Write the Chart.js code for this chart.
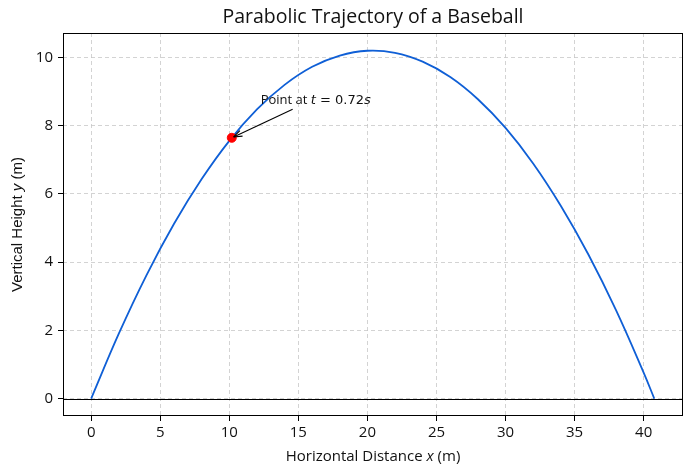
<!DOCTYPE html>
<html>
<head>
<meta charset="utf-8">
<script src="https://cdn.jsdelivr.net/npm/chart.js@4"></script>
<style>
  html, body { margin: 0; padding: 0; background: #fff; }
  canvas { display: block; }
</style>
</head>
<body>
<canvas id="graph" width="691" height="475"></canvas>
<script>
// trajectory (x in m, y in m)
var distances = [0, 2, 4, 6, 8, 10, 12, 14, 16, 18, 20, 22, 24, 26, 28, 30, 32, 34, 36, 38, 40, 40.77];
var heights   = [0, 1.90, 3.61, 5.12, 6.43, 7.55, 8.47, 9.19, 9.72, 10.05, 10.19, 10.13, 9.87, 9.42, 8.77, 7.93, 6.89, 5.65, 4.22, 2.59, 0.76, 0];

// highlighted point and its label
var markX = [10.18];
var markY = [7.64];
var labelAt = [12.27, 8.62];

var xTicks = [0, 5, 10, 15, 20, 25, 30, 35, 40];
var yTicks = [0, 2, 4, 6, 8, 10];

var sansFont = "'Open Sans', sans-serif";
var mathFont = "'DejaVu Sans', sans-serif";
var ylabFont = "'Liberation Sans', Arial, sans-serif";

var points = distances.map(function (d, i) { return {x: d, y: heights[i]}; });

function mixed(c, parts, x, y, size) {
    var cx = x;
    parts.forEach(function (p) {
        c.font = p[1] + size + 'px ' + p[2];
        c.fillText(p[0], cx, y);
        cx += c.measureText(p[0]).width;
    });
}
function mixedWidth(c, parts, size) {
    var w = 0;
    parts.forEach(function (p) {
        c.font = p[1] + size + 'px ' + p[2];
        w += c.measureText(p[0]).width;
    });
    return w;
}

/* frame, zero line, title, axis labels and the arrow note */
var extras = {
    id: 'extras',
    beforeDatasetsDraw: function (chart) {
        var c = chart.ctx, a = chart.chartArea;
        var y0 = chart.scales.y.getPixelForValue(0);
        c.save();
        c.strokeStyle = '#000';
        c.lineWidth = 1.2;
        c.beginPath();
        c.moveTo(a.left, Math.round(y0) + 0.5);
        c.lineTo(a.right, Math.round(y0) + 0.5);
        c.stroke();
        c.restore();
    },
    afterDraw: function (chart) {
        var c = chart.ctx, a = chart.chartArea;
        var sx = chart.scales.x, sy = chart.scales.y;
        c.save();
        c.strokeStyle = '#000';
        c.lineWidth = 1;
        c.strokeRect(a.left + 0.5, a.top + 0.5, a.right - a.left - 1, a.bottom - a.top - 1);

        c.fillStyle = '#111';
        c.textAlign = 'center';
        c.textBaseline = 'middle';
        c.font = '19.5px ' + sansFont;
        c.fillText('Parabolic Trajectory of a Baseball', (a.left + a.right) / 2, 17);

        // x axis label with italic x
        c.textAlign = 'left';
        var xl = [['Horizontal Distance ', '', sansFont], ['x', 'italic ', sansFont], [' (m)', '', sansFont]];
        var wx = mixedWidth(c, xl, 15);
        mixed(c, xl, (a.left + a.right) / 2 - wx / 2, 457, 15);

        // y axis label, rotated
        c.save();
        c.translate(18, (a.top + a.bottom) / 2);
        c.rotate(-Math.PI / 2);
        var yl = [['Vertical Height ', '', ylabFont], ['y', 'italic ', ylabFont], [' (m)', '', ylabFont]];
        var wy = mixedWidth(c, yl, 15);
        mixed(c, yl, -wy / 2, 0, 15);
        c.restore();

        // annotation text
        var tx = sx.getPixelForValue(labelAt[0]);
        var ty = sy.getPixelForValue(labelAt[1]);
        c.textBaseline = 'alphabetic';
        mixed(c, [['Point at ', '', sansFont], ['t', 'italic ', mathFont], [' = 0.72', '', mathFont], ['s', 'italic ', mathFont]], tx, ty, 13);

        // arrow to the marker
        var px = sx.getPixelForValue(markX[0]), py = sy.getPixelForValue(markY[0]);
        var ax = tx + 32, ay = ty + 5;
        var ang = Math.atan2(py - ay, px - ax);
        var ex = px - Math.cos(ang) * 2, ey = py - Math.sin(ang) * 2;
        c.strokeStyle = '#000';
        c.lineWidth = 1.1;
        c.beginPath();
        c.moveTo(ax, ay);
        c.lineTo(ex, ey);
        c.stroke();
        c.beginPath();
        c.moveTo(ex, ey);
        c.lineTo(ex - 9 * Math.cos(ang - 0.35), ey - 9 * Math.sin(ang - 0.35));
        c.moveTo(ex, ey);
        c.lineTo(ex - 9 * Math.cos(ang + 0.35), ey - 9 * Math.sin(ang + 0.35));
        c.stroke();
        c.restore();
    }
};

new Chart(document.getElementById('graph'), {
    type: 'scatter',
    data: {
        datasets: [
            {
                data: points,
                showLine: true,
                borderColor: '#0f5fd6',
                borderWidth: 1.8,
                pointRadius: 0,
                tension: 0.4,
                order: 2
            },
            {
                data: markX.map(function (v, i) { return {x: v, y: markY[i]}; }),
                pointRadius: 4.5,
                pointBackgroundColor: '#ff0000',
                pointBorderColor: '#ff0000',
                order: 1
            }
        ]
    },
    options: {
        responsive: false,
        animation: false,
        devicePixelRatio: 1,
        layout: {padding: {top: 33, right: 8, left: 0, bottom: 0}},
        plugins: {legend: {display: false}, tooltip: {enabled: false}, title: {display: false}},
        scales: {
            x: {
                type: 'linear',
                min: -2.04,
                max: 42.85,
                afterBuildTicks: function (s) { s.ticks = xTicks.map(function (v) { return {value: v}; }); },
                afterFit: function (s) { s.height = 59; },
                grid: {color: '#c8c8c8', lineWidth: 0.8, tickLength: 5, tickColor: '#000', tickWidth: 1},
                border: {display: false, dash: [4, 3]},
                ticks: {color: '#111', font: {family: sansFont, size: 15}, padding: 3, maxRotation: 0}
            },
            y: {
                type: 'linear',
                min: -0.51,
                max: 10.71,
                afterBuildTicks: function (s) { s.ticks = yTicks.map(function (v) { return {value: v}; }); },
                afterFit: function (s) { s.width = 63; },
                grid: {color: '#c8c8c8', lineWidth: 0.8, tickLength: 5, tickColor: '#000', tickWidth: 1},
                border: {display: false, dash: [4, 3]},
                ticks: {color: '#111', font: {family: sansFont, size: 15}, padding: 5}
            }
        }
    },
    plugins: [extras]
});
</script>
</body>
</html>
